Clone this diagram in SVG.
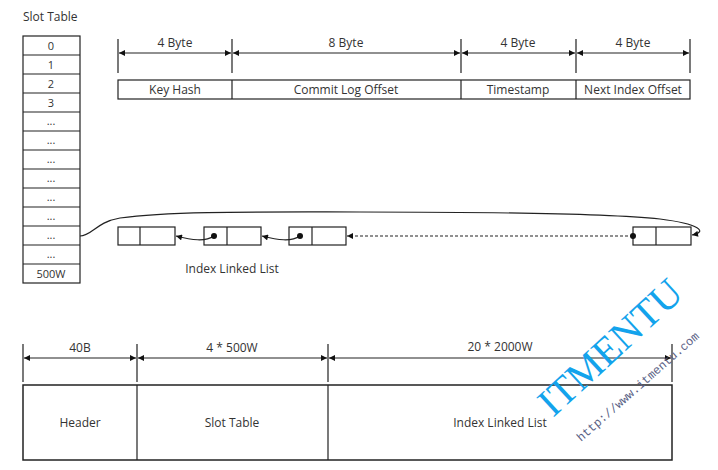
<svg xmlns="http://www.w3.org/2000/svg" width="718" height="470" viewBox="0 0 718 470">
<style>
text{font-family:"Open Sans","Noto Sans","DejaVu Sans",sans-serif;fill:#333;}
.t{font-size:12px;text-anchor:middle;}
.s{font-size:11px;text-anchor:middle;}
.box{fill:#fff;stroke:#222;stroke-width:1.2;}
.ln{stroke:#222;stroke-width:1.2;fill:none;}
.dim{stroke:#222;stroke-width:1.2;fill:none;marker-start:url(#al);marker-end:url(#ar);}
</style>
<defs>
<marker id="ar" viewBox="0 0 10 10" refX="10" refY="5" markerWidth="8" markerHeight="6" markerUnits="userSpaceOnUse" orient="auto"><path d="M0,0 L10,5 L0,10 z" fill="#111"/></marker>
<marker id="al" viewBox="0 0 10 10" refX="0" refY="5" markerWidth="8" markerHeight="6" markerUnits="userSpaceOnUse" orient="auto"><path d="M10,0 L0,5 L10,10 z" fill="#111"/></marker>
<marker id="dot" viewBox="0 0 10 10" refX="5" refY="5" markerWidth="6" markerHeight="6" markerUnits="userSpaceOnUse"><circle cx="5" cy="5" r="5" fill="#111"/></marker>
</defs>
<rect width="718" height="470" fill="#fff"/>

<g id="slot-table">
<text x="23" y="21" style="font-size:12px">Slot Table</text>
<rect class="box" x="23" y="36" width="57" height="247"/>
<path class="ln" d="M23,55H80M23,74H80M23,93H80M23,112H80M23,131H80M23,150H80M23,169H80M23,188H80M23,207H80M23,226H80M23,245H80M23,264H80"/>
<g class="s">
<text x="51" y="50">0</text><text x="51" y="69">1</text><text x="51" y="88">2</text><text x="51" y="107">3</text>
<text x="51" y="125">...</text><text x="51" y="144">...</text><text x="51" y="163">...</text><text x="51" y="182">...</text>
<text x="51" y="201">...</text><text x="51" y="220">...</text><text x="51" y="239">...</text><text x="51" y="258">...</text>
<text x="51" y="278">500W</text>
</g>
</g>

<g id="index-entry">
<path class="ln" d="M118,39V73M232,39V73M461,39V73M576,39V73M690,39V73"/>
<path class="dim" d="M119,53H231"/>
<path class="dim" d="M233,53H460"/>
<path class="dim" d="M462,53H575"/>
<path class="dim" d="M577,53H689"/>
<text class="t" x="175" y="47">4 Byte</text>
<text class="t" x="346" y="47">8 Byte</text>
<text class="t" x="518" y="47">4 Byte</text>
<text class="t" x="633" y="47">4 Byte</text>
<rect class="box" x="118" y="80" width="572" height="19"/>
<path class="ln" d="M232,80V99M461,80V99M576,80V99"/>
<text class="t" x="175" y="94">Key Hash</text>
<text class="t" x="346" y="94">Commit Log Offset</text>
<text class="t" x="518" y="94">Timestamp</text>
<text class="t" x="633" y="94">Next Index Offset</text>
</g>

<g id="node-1"><rect class="box" x="118" y="227" width="57" height="18"/><path class="ln" d="M140,227V245"/></g>
<g id="node-2"><rect class="box" x="204" y="227" width="57" height="18"/><path class="ln" d="M227,227V245"/></g>
<g id="node-3"><rect class="box" x="289" y="227" width="57" height="18"/><path class="ln" d="M312,227V245"/></g>
<g id="node-4"><rect class="box" x="633" y="227" width="58" height="18"/><path class="ln" d="M656,227V245"/></g>
<text class="t" x="232" y="273">Index Linked List</text>

<g id="connectors">
<path class="ln" d="M214,236C205,242 192,240 176,236" marker-start="url(#dot)" marker-end="url(#ar)"/>
<path class="ln" d="M300,236C291,242 278,240 262,236" marker-start="url(#dot)" marker-end="url(#ar)"/>
<path class="ln" d="M633,236H347" stroke-dasharray="3,2" marker-start="url(#dot)" marker-end="url(#ar)"/>
<path class="ln" d="M80,236C92,236 96,222 120,218C170,211 260,212 360,212C480,212 600,213 660,219C700,224 708,232 692,235" marker-end="url(#ar)"/>
</g>

<g id="file-layout">
<path class="ln" d="M23,344V382M137,344V382M328,344V382M672,344V382"/>
<path class="dim" d="M24,358H136"/>
<path class="dim" d="M138,358H327"/>
<path class="dim" d="M329,358H671"/>
<text class="t" x="80" y="352">40B</text>
<text class="t" x="232" y="352">4 * 500W</text>
<text class="t" x="500" y="351">20 * 2000W</text>
<rect class="box" x="23" y="385" width="649" height="75" style="stroke-width:1.5"/>
<path class="ln" d="M137,385V460M328,385V460"/>
<text class="t" x="80" y="427">Header</text>
<text class="t" x="232" y="427">Slot Table</text>
<text class="t" x="500" y="427">Index Linked List</text>
</g>

<g id="watermark">
<text x="553" y="418" transform="rotate(-42.7 553 418)" style="font-family:'Liberation Serif',serif;font-size:40px;fill:#13a3ec">ITMENTU</text>
<text x="581" y="442" transform="rotate(-41.4 581 442)" style="font-family:'Liberation Mono',monospace;font-size:12px;fill:#5a5f85">http://www.itmentu.com</text>
</g>
</svg>
